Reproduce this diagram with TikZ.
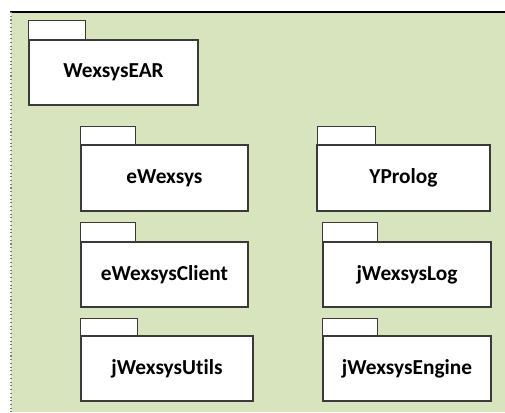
\documentclass[tikz,border=0pt]{standalone}
\usepackage{fontspec}
\setmainfont[Ligatures={NoCommon,NoRare}]{Carlito}
\definecolor{bggreen}{HTML}{D7E4BD}
\definecolor{pkgline}{HTML}{3A3A3A}
\begin{document}
\begin{tikzpicture}[x=0.75pt,y=-0.75pt,
  pkg/.style={draw=pkgline, line width=0.9pt, fill=white, inner sep=0pt,
    minimum height=65*0.75pt, font=\fontsize{16}{19}\selectfont\bfseries, text=black},
  tabbox/.style={draw=pkgline, line width=0.9pt, fill=white}]
\useasboundingbox (0,0) rectangle (505,412);
\fill[bggreen] (11,12) rectangle (505,412);
\draw[black, line width=1.2pt] (10,12) -- (505,12);
\draw[gray, line width=0.8pt, dotted] (11,12) -- (11,412);

\node[pkg, minimum width=169*0.75pt] (ear) at (113.5,72.5) {WexsysEAR};
\draw[tabbox] (ear.north west) rectangle ++(57,-19);

\node[pkg, minimum width=167*0.75pt, minimum height=66*0.75pt] (ew) at (164.5,178) {eWexsys};
\draw[tabbox] (ew.north west) rectangle ++(55,-18);

\node[pkg, minimum width=173*0.75pt, minimum height=66*0.75pt] (yp) at (403.5,178) {YProlog};
\draw[tabbox] ([xshift=0.75pt]yp.north west) rectangle ++(58,-18);

\node[pkg, minimum width=167*0.75pt] (ewc) at (164.5,274.5) {eWexsysClient};
\draw[tabbox] (ewc.north west) rectangle ++(55,-19);

\node[pkg, minimum width=168*0.75pt] (jl) at (407,274.5) {jWexsysLog};
\draw[tabbox] (jl.north west) rectangle ++(55,-19);

\node[pkg, minimum width=172*0.75pt] (ju) at (167,368.5) {jWexsysUtils};
\draw[tabbox] (ju.north west) rectangle ++(57,-17);

\node[pkg, minimum width=168*0.75pt] (je) at (407,368.5) {jWexsysEngine};
\draw[tabbox] (je.north west) rectangle ++(55,-17);
\end{tikzpicture}
\end{document}
